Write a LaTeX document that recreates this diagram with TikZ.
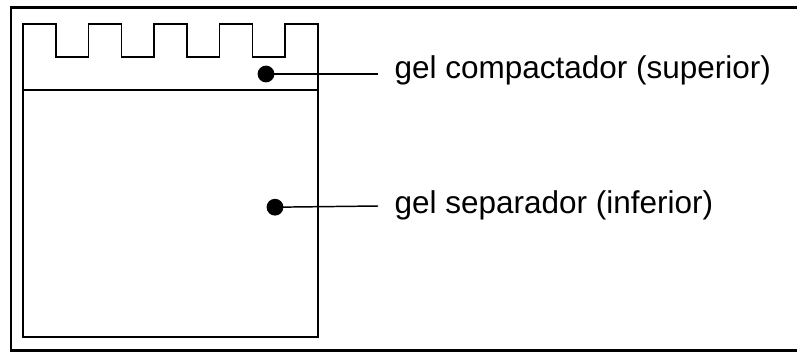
\documentclass[tikz,border=0pt]{standalone}
\usepackage{fontspec}
\setmainfont{Liberation Sans}
\usepackage{tikz}
\usetikzlibrary{positioning}

\begin{document}
\begin{tikzpicture}[thick, every node/.style={align=left}]
      \tikzset{geldot/.style={circle, fill=black, inner sep=0pt, minimum size=0.42cm},
               gellabel/.style={anchor=base west, inner sep=0pt, font=\fontsize{22.4}{26}\selectfont}}
      \useasboundingbox (0,0) rectangle (19.925,8.8);

      % outer frame (right side runs off the page)
      \draw[line width=2.1pt] (20.5,8.6125) -- (0.275,8.6125) -- (0.275,0.0375) -- (20.5,0.0375);

      % gel with comb teeth
      \draw[line width=1.05pt] (0.575,0.375) -- (0.575,8.2)
        \foreach \i in {1,...,4} { -- ++(0.8194,0) -- ++(0,-0.825) -- ++(0.8194,0) -- ++(0,0.825) }
        -- (7.95,8.2) -- (7.95,0.375) -- cycle;
      \draw[line width=1.05pt] (0.575,6.55) -- (7.95,6.55);

      \node[geldot] (compdot) at (6.65,6.95) {};
      \node[geldot] (sepdot) at (6.875,3.62) {};
      \coordinate (compend) at (9.45,6.95);
      \coordinate (sepend) at (9.45,3.65);
      \draw[line width=1.05pt] (compdot.center) -- (compend);
      \draw[line width=1.05pt] (sepdot.center) -- (sepend);

      \node[gellabel] (complabel) at (9.85,6.825) {gel compactador (superior)};
      \node[gellabel] (seplabel) at (9.85,3.475) {gel separador (inferior)};
    \end{tikzpicture}
\end{document}
